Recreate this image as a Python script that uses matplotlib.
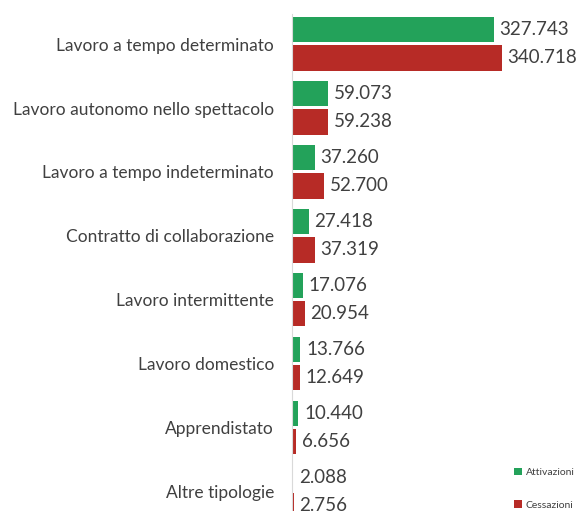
import matplotlib.pyplot as plt
import numpy as np

categorie = ['Lavoro a tempo determinato', 'Lavoro autonomo nello spettacolo',
             'Lavoro a tempo indeterminato', 'Contratto di collaborazione',
             'Lavoro intermittente', 'Lavoro domestico', 'Apprendistato',
             'Altre tipologie']
attivazioni = [327743, 59073, 37260, 27418, 17076, 13766, 10440, 2088]
cessazioni = [340718, 59238, 52700, 37319, 20954, 12649, 6656, 2756]

verde = '#23a25a'
rosso = '#b72b26'
grigio = '#404040'

plt.rcParams['font.family'] = ['Lato', 'DejaVu Sans']

fig = plt.figure(figsize=(5.84, 5.11), dpi=100)
ax = fig.add_axes([0.5, 0.0, 0.5, 0.9726])

y = np.arange(len(categorie))
h = 0.4
ax.barh(y - 0.225, attivazioni, height=h, color=verde, label='Attivazioni')
ax.barh(y + 0.215, cessazioni, height=h, color=rosso, label='Cessazioni')

for i in range(len(categorie)):
    ax.text(attivazioni[i] + 9000, y[i] - 0.225, f'{attivazioni[i]:,}'.replace(',', '.'),
            va='center', ha='left', fontsize=13.5, color=grigio)
    ax.text(cessazioni[i] + 9000, y[i] + 0.215, f'{cessazioni[i]:,}'.replace(',', '.'),
            va='center', ha='left', fontsize=13.5, color=grigio)

ax.set_xlim(0, 474000)
ax.set_ylim(7.30, -0.47)
ax.set_yticks(y)
ax.set_yticklabels(categorie, fontsize=12.5, color=grigio)
ax.tick_params(axis='y', length=0, pad=13)
ax.set_xticks([])
for s in ['top', 'right', 'bottom']:
    ax.spines[s].set_visible(False)
ax.spines['left'].set_color('#d9d9d9')

ax.legend(loc='lower right', bbox_to_anchor=(1.0, -0.016), frameon=False, fontsize=7.5,
          handlelength=0.7, handleheight=0.7, handletextpad=0.4, labelspacing=2.2,
          labelcolor=grigio)

fig.savefig('out.png', dpi=100)
